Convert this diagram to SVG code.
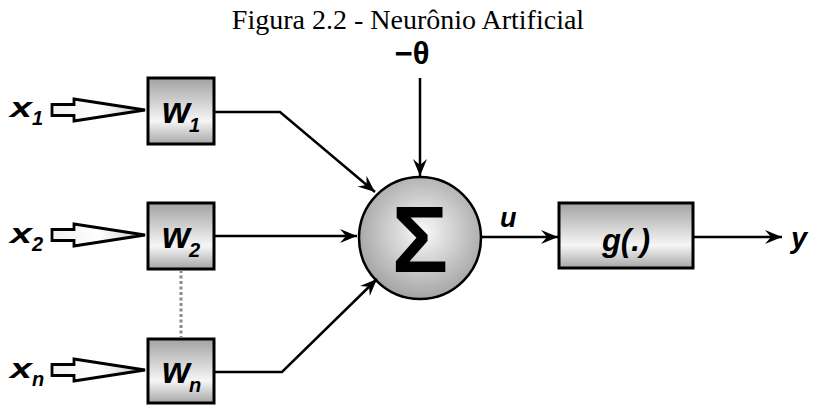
<svg xmlns="http://www.w3.org/2000/svg" width="813" height="405" viewBox="0 0 813 405">
<defs>
<linearGradient id="boxg" x1="0" y1="0" x2="0" y2="1">
<stop offset="0" stop-color="#a2a2a2"/>
<stop offset="0.65" stop-color="#f6f6f6"/>
<stop offset="1" stop-color="#a6a6a6"/>
</linearGradient>
<radialGradient id="circg" cx="0.52" cy="0.45" r="0.55">
<stop offset="0" stop-color="#fafafa"/>
<stop offset="1" stop-color="#a4a4a4"/>
</radialGradient>
<linearGradient id="inarr" x1="0" y1="0" x2="1" y2="0">
<stop offset="0" stop-color="#f0f0f0"/>
<stop offset="0.5" stop-color="#ffffff"/>
<stop offset="1" stop-color="#c8c8c8"/>
</linearGradient>
<marker id="ah" markerUnits="userSpaceOnUse" markerWidth="20" markerHeight="16" refX="0" refY="0" viewBox="-17 -8 18 16" orient="auto" overflow="visible">
<path d="M0,0 L-17,-7 L-11,0 L-17,7 Z" fill="#000"/>
</marker>
</defs>
<style>
.box{fill:url(#boxg);stroke:#000;stroke-width:3}
.inarrow{fill:url(#inarr);stroke:#000;stroke-width:2.8;stroke-linejoin:miter}
.lbl{font-family:"Liberation Sans",Arial,sans-serif;font-weight:bold;font-style:italic;fill:#000}
.conn{fill:none;stroke:#000;stroke-width:2.5;marker-end:url(#ah)}
</style>
<rect width="813" height="405" fill="#fff"/>
<text x="408" y="29" text-anchor="middle" font-family="'Liberation Serif','Times New Roman',serif" font-size="28" fill="#000">Figura 2.2 - Neurônio Artificial</text>

<g id="input-x1">
<text class="lbl" x="10" y="117" font-size="28" textLength="22" lengthAdjust="spacingAndGlyphs">x</text><text class="lbl" x="32" y="125" font-size="20">1</text>
<path class="inarrow" d="M52,104.5 L74,104.5 L74,99 L145,110 L74,121 L74,115.5 L52,115.5 Z"/>
</g>
<g id="input-x2">
<text class="lbl" x="10" y="243" font-size="28" textLength="22" lengthAdjust="spacingAndGlyphs">x</text><text class="lbl" x="32" y="251" font-size="20">2</text>
<path class="inarrow" d="M52,229.5 L74,229.5 L74,224 L145,235 L74,246 L74,240.5 L52,240.5 Z"/>
</g>
<g id="input-xn">
<text class="lbl" x="10" y="378" font-size="28" textLength="22" lengthAdjust="spacingAndGlyphs">x</text><text class="lbl" x="32" y="386" font-size="20">n</text>
<path class="inarrow" d="M52,364.5 L74,364.5 L74,359 L145,370 L74,381 L74,375.5 L52,375.5 Z"/>
</g>

<g id="w1">
<rect class="box" x="148" y="78" width="66" height="66"/>
<text class="lbl" x="162" y="123" font-size="36">w</text><text class="lbl" x="189" y="132" font-size="20">1</text>
</g>
<g id="w2">
<rect class="box" x="148" y="203" width="66" height="66"/>
<text class="lbl" x="162" y="248" font-size="36">w</text><text class="lbl" x="189" y="257" font-size="20">2</text>
</g>
<g id="wn">
<rect class="box" x="148" y="339" width="66" height="64"/>
<text class="lbl" x="162" y="383" font-size="36">w</text><text class="lbl" x="189" y="392" font-size="20">n</text>
</g>

<g id="sum">
<circle cx="420" cy="238" r="61" fill="url(#circg)" stroke="#000" stroke-width="2.5"/>
<text x="420" y="272" text-anchor="middle" font-family="'Liberation Sans',Arial,sans-serif" font-weight="bold" font-size="94" fill="#000">Σ</text>
</g>

<g id="theta">
<text x="412" y="64" text-anchor="middle" font-family="'Liberation Sans',Arial,sans-serif" font-weight="bold" font-size="31" fill="#000">−θ</text>
</g>

<g id="activation">
<rect class="box" x="559" y="203" width="134" height="65"/>
<text class="lbl" x="626" y="251" text-anchor="middle" font-size="31">g(.)</text>
</g>

<g id="labels">
<text class="lbl" x="500" y="227" font-size="27">u</text>
<text class="lbl" x="791" y="248" font-size="29">y</text>
</g>

<g id="connectors">
<path class="conn" d="M214,112 L280,112 L375,192"/>
<path class="conn" d="M214,236 L357,236"/>
<path class="conn" d="M214,372 L282,372 L377,279"/>
<path class="conn" d="M420,78 L420,176"/>
<path class="conn" d="M481,237 L558,237"/>
<path class="conn" d="M693,237 L782,237"/>
<path d="M181,270 L181,338" fill="none" stroke="#8a8a8a" stroke-width="3" stroke-dasharray="3,2.5"/>
</g>
</svg>
